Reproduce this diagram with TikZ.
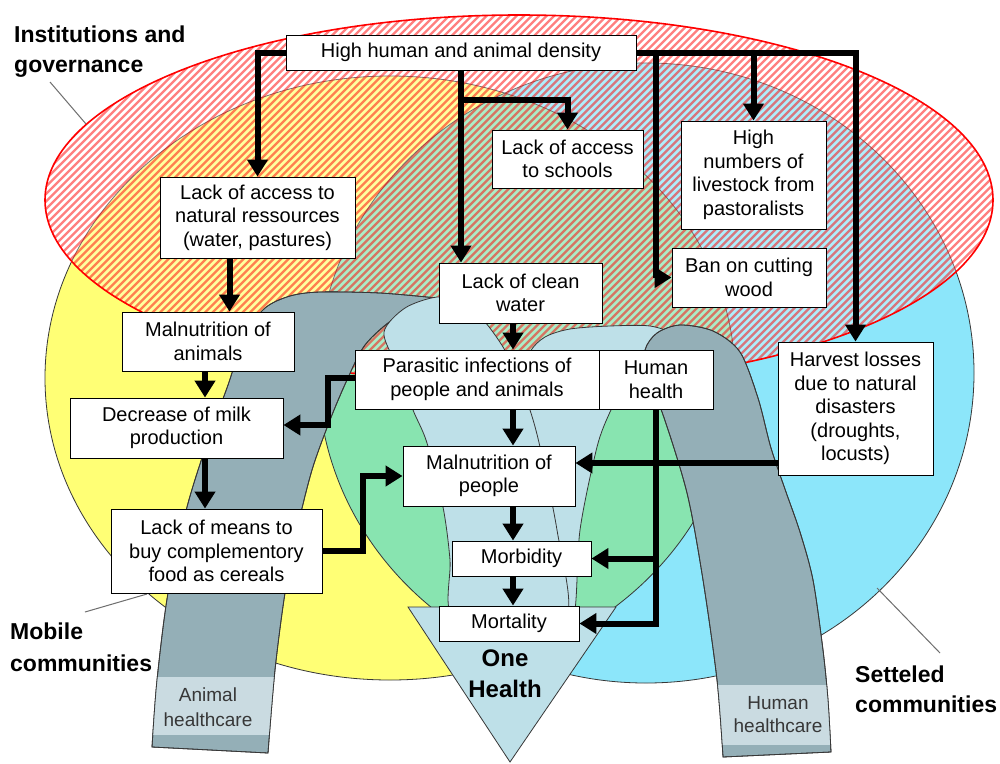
\documentclass[tikz,border=0pt]{standalone}
\usepackage{fontspec}
\setmainfont{Liberation Sans}
\usetikzlibrary{arrows.meta}
\definecolor{yel}{RGB}{255,255,117}
\definecolor{sky}{RGB}{140,230,250}
\definecolor{grn}{RGB}{136,228,176}
\definecolor{band}{RGB}{148,175,183}
\definecolor{lband}{RGB}{202,219,225}
\definecolor{lblue}{RGB}{190,224,232}
\definecolor{edgec}{RGB}{55,55,55}
\definecolor{leadc}{RGB}{110,110,110}
\definecolor{hatchred}{RGB}{255,0,0}
\def\LgreyPath{plot[smooth] coordinates {(152,747) (157,680) (168,593) (187,507) (208,440) (228,385) (245,335) (265,308) (290,296) (320,292) (380,293) (437,298)} -- plot[smooth] coordinates {(437,298) (395,318) (365,345) (347,380) (330,420) (312,470) (297,530) (285,593) (275,670) (268,753)} -- cycle}
\def\RgreyPath{plot[smooth] coordinates {(723,757) (717,680) (703,580) (687,493) (662,412) (646,378) (645,350) (657,333) (680,325) (713,331) (740,352) (758,398) (771,448) (786,492) (800,532) (813,580) (823,650) (828,700) (831,752)} -- cycle}
\def\LlightPath{plot[smooth cycle] coordinates {(437,297) (405,308) (384,332) (396,365) (413,410) (427,443) (443,507) (450,560) (452,615) (510,618) (567,615) (557,530) (540,447) (530,410) (516,373) (503,347) (485,322) (463,302)}}
\def\RlightPath{plot[smooth cycle] coordinates {(530,352) (545,337) (570,329) (610,326) (650,326) (672,335) (655,352) (635,375) (620,395) (610,412) (597,447) (580,530) (574,615) (555,615) (545,530) (530,450) (520,410) (522,380)}}
\begin{document}
\begin{tikzpicture}[x=1pt,y=-1pt,
  box/.style={draw=black, line width=0.9pt, fill=white, align=center, inner sep=0pt,
    font=\fontsize{20}{23.5}\selectfont},
  bx/.style 2 args={box, minimum width=#1pt, minimum height=#2pt},
  arr/.style={line width=6pt, line join=miter, -{Triangle[width=20pt,length=17pt]}},
  lbl/.style={inner sep=0pt, align=left, font=\bfseries\fontsize{23}{30}\selectfont},
  leadline/.style={draw=leadc, line width=1pt},
  shapeline/.style={draw=edgec, line width=0.8pt}]
\useasboundingbox (0,0) rectangle (1000,763);
\fill[white] (0,0) rectangle (1000,763);
% communities
\fill[yel] (390,378) ellipse [x radius=345, y radius=302];
\fill[sky] (646,373) ellipse [x radius=328, y radius=310];
\begin{scope}
  \clip (390,378) ellipse [x radius=345, y radius=302];
  \fill[grn] (646,373) ellipse [x radius=328, y radius=310];
\end{scope}
\draw[shapeline] (390,378) ellipse [x radius=345, y radius=302];
\draw[shapeline] (646,373) ellipse [x radius=328, y radius=310];
% institutions (hatched)
\begin{scope}
  \clip (519,200) ellipse [x radius=474, y radius=185];
  \fill[white, opacity=0.3] (40,10) rectangle (1000,390);
  \foreach \i in {-400,-392.5,...,1000}
    \draw[hatchred, opacity=0.5, line width=2.4pt] (\i,400) -- ++(400,-400);
\end{scope}
\draw[red, line width=1.6pt] (519,200) ellipse [x radius=474, y radius=185];
% healthcare ribbons
\path[fill=lblue, shapeline] \RlightPath;
\path[fill=band, shapeline] \RgreyPath;
\begin{scope}
  \clip \RgreyPath;
  \fill[lband] (700,685) rectangle (850,745);
\end{scope}
\path[shapeline] \RgreyPath;
\path[fill=band, shapeline] \LgreyPath;
\begin{scope}
  \clip \LgreyPath;
  \fill[lband] (130,677) rectangle (300,735);
\end{scope}
\path[shapeline] \LgreyPath;
\path[fill=lblue, shapeline] \LlightPath;
% One Health triangle
\path[fill=lblue, shapeline] (408,607) -- (616,607) -- (510,762) -- cycle;
\node[inner sep=0pt, align=center, anchor=north, font=\bfseries\fontsize{24}{31}\selectfont] (oh) at (505,649.5) {One\\Health};
\node[inner sep=0pt, align=center, anchor=north, text=edgec, font=\fontsize{19}{25}\selectfont] (ahc) at (208,688) {Animal\\healthcare};
\node[inner sep=0pt, align=center, anchor=north, text=edgec, font=\fontsize{19}{23}\selectfont] (hhc) at (778,696) {Human\\healthcare};
% outer labels
\node[lbl, anchor=north west] (inst) at (14,26) {Institutions and\\governance};
\node[lbl, anchor=north west, font=\bfseries\fontsize{23}{32}\selectfont] (mob) at (10,623) {Mobile\\communities};
\node[lbl, anchor=north west] (set) at (855,666) {Setteled\\communities};
\coordinate (i1) at (50,82); \coordinate (i2) at (86,124);
\coordinate (m1) at (85,612); \coordinate (m2) at (147,594);
\coordinate (s1) at (877,588); \coordinate (s2) at (940,653);
\draw[leadline] (i1) -- (i2);
\draw[leadline] (m1) -- (m2);
\draw[leadline] (s1) -- (s2);
% boxes
\node[bx={350}{35}] (hh) at (461,52.5) {High human and animal density};
\node[bx={195}{81}] (lan) at (257.5,217.5) {Lack of access to\\natural ressources\\(water, pastures)};
\node[bx={151}{58}] (las) at (567.5,159) {Lack of access\\to schools};
\node[bx={145}{108}] (hn) at (753.5,175) {High\\numbers of\\livestock from\\pastoralists};
\node[bx={154}{59}] (ban) at (749,277.5) {Ban on cutting\\wood};
\node[bx={163}{60}] (lcw) at (520.5,293) {Lack of clean\\water};
\node[bx={172}{59}] (man) at (208,341.5) {Malnutrition of\\animals};
\node[bx={244}{59}] (par) at (477,379.5) {Parasitic infections of\\people and animals};
\node[bx={114}{59}] (hu) at (656,379.5) {Human\\health};
\node[bx={155}{133}] (hl) at (855.5,408.5) {Harvest losses\\due to natural\\disasters\\(droughts,\\locusts)};
\node[bx={213}{60}] (dec) at (176.5,428) {Decrease of milk\\production};
\node[bx={172}{60}] (mp) at (489,476) {Malnutrition of\\people};
\node[bx={211}{84}] (lom) at (216.5,551) {Lack of means to\\buy complementory\\food as cereals};
\node[bx={139}{35}] (morb) at (521.5,558.5) {Morbidity};
\node[bx={140}{35}] (mort) at (509,623.5) {Mortality};
% connectors
\coordinate (ax) at (513,0);
\draw[arr] (hh.west) -| (lan.north);
\draw[arr] (hh.south) -- (hh.south |- lcw.north);
\draw[arr] (hh.south) ++(0,30) -| (las.north);
\draw[arr] (hh.east) -| (hl.north);
\draw[arr] (hh.east -| hn.north) -- (hn.north);
\draw[arr] (hu.north |- hh.east) |- (ban.west);
\draw[arr] ([xshift=-28pt]lan.south) -- ([xshift=-28pt]lan.south |- man.north);
\draw[arr] ([xshift=-3pt]man.south) -- ([xshift=-3pt]man.south |- dec.north);
\draw[arr] ([xshift=-3pt]man.south |- dec.south) -- ([xshift=-3pt]man.south |- lom.north);
\draw[arr] (ax |- lcw.south) -- (ax |- par.north);
\draw[arr] (ax |- par.south) -- (ax |- mp.north);
\draw[arr] (ax |- mp.south) -- (ax |- morb.north);
\draw[arr] (ax |- morb.south) -- (ax |- mort.north);
\draw[arr] ([yshift=1.5pt]par.west) -- ++(-27,0) |- ([yshift=3pt]dec.east);
\draw[arr] (lom.east) -- ++(41,0) |- (mp.west);
\draw[arr] ([yshift=13pt]mp.east -| hl.west) -- ([yshift=13pt]mp.east);
\draw[arr] (hu.south) |- (morb.east);
\draw[arr] (hu.south) |- (mort.east);
\end{tikzpicture}
\end{document}
